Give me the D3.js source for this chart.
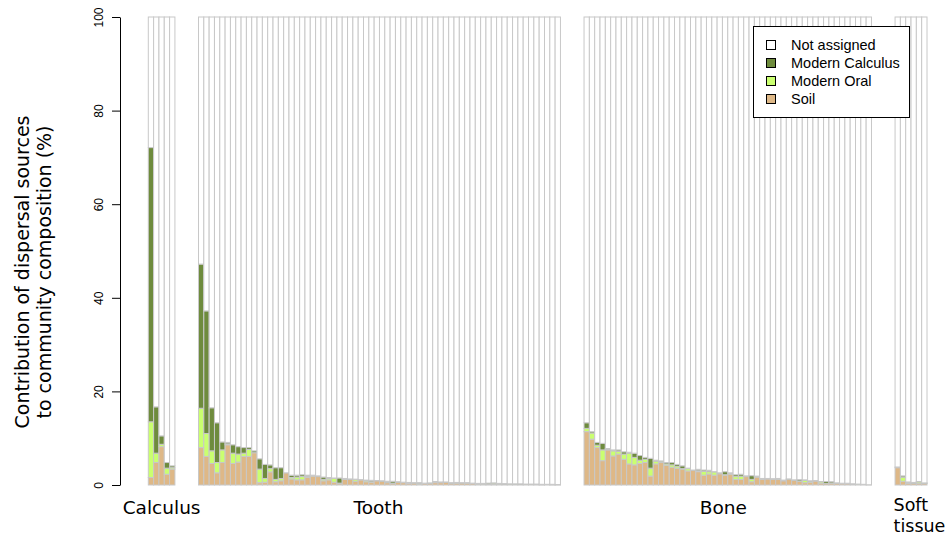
<!DOCTYPE html>
<html><head><meta charset="utf-8">
<script src="https://cdn.jsdelivr.net/npm/d3@7"></script>
<style>body{margin:0;background:#fff}svg{display:block}</style>
</head><body>
<svg id="chart" width="951" height="536"></svg>
<script>
// Sample types along the x axis
const groups = ["Calculus", "Tooth", "Bone", "Soft tissue"];
// Source categories (legend order, top to bottom)
const sources = ["Not assigned", "Modern Calculus", "Modern Oral", "Soil"];
const sourceColors = ["#ffffff", "#6e8b3d", "#caff70", "#deb887"];
const yTicks = [0, 20, 40, 60, 80, 100];

// Percent contribution of each source, one value per sample
const calculusSoil = [1.6, 4.8, 8.2, 2.3, 3.4];
const calculusOral = [11.9, 2.0, 0.5, 1.3, 0.3];
const calculusCalc = [58.6, 9.9, 1.8, 1.2, 0.4];

const toothSoil = [8.0, 6.1, 4.6, 2.6, 4.8, 8.6, 4.6, 4.9, 6.1, 6.1, 6.9, 0.5, 0.6, 2.8, 0.7, 0.9, 2.6, 1.3, 1.1, 1.1,
  1.6, 1.9, 1.8, 0.9, 1.1, 0.6, 0.3, 1.2, 1.2, 0.8, 1.1, 0.7, 0.6, 0.9, 0.8, 0.5, 0.3, 0.6, 0.5, 0.3,
  0.4, 0.2, 0.3, 0.3, 0.5, 0.5, 0.6, 0.3, 0.4, 0.4, 0.4, 0.3, 0.2, 0.2, 0.1, 0.1, 0.2, 0.2, 0.15, 0.2,
  0.1, 0.15, 0.1, 0.1, 0.05, 0.1, 0.05, 0.05];
const toothOral = [8.4, 4.9, 2.7, 2.2, 2.7, 0.2, 2.2, 1.7, 0.7, 1.5, 0.0, 2.9, 0.8, 0.7, 0.5, 0.5, 0.0, 0.3, 0.6, 0.7,
  0.2, 0.1, 0.1, 0.3, 0.3, 0.8, 0.1, 0.1, 0.0, 0.4, 0.0, 0.3, 0.1, 0.0, 0.0, 0.1, 0.1, 0.0, 0.0, 0.2,
  0.0, 0.2, 0.0, 0.1, 0.2, 0.05, 0.0, 0.1, 0.05, 0.0, 0.05, 0.0, 0.05, 0.1, 0.0, 0.3, 0.05, 0.0, 0.05, 0.0,
  0.05, 0.0, 0.05, 0.0, 0.05, 0.0, 0.05, 0.0];
const toothCalc = [30.8, 26.2, 9.2, 8.5, 1.7, 0.3, 1.8, 1.6, 1.2, 0.4, 0.4, 2.2, 3.0, 0.8, 2.5, 2.3, 0.0, 0.5, 0.4, 0.4,
  0.3, 0.1, 0.05, 0.5, 0.2, 0.1, 1.1, 0.1, 0.1, 0.05, 0.05, 0.05, 0.3, 0.05, 0.1, 0.2, 0.4, 0.1, 0.1, 0.05,
  0.1, 0.1, 0.1, 0.05, 0.05, 0.1, 0.05, 0.1, 0.1, 0.1, 0.05, 0.1, 0.1, 0.05, 0.3, 0.05, 0.1, 0.1, 0.05, 0.05,
  0.1, 0.05, 0.05, 0.1, 0.05, 0.05, 0.05, 0.05];

const boneSoil = [11.4, 9.8, 8.0, 5.2, 7.5, 6.2, 6.6, 5.5, 4.5, 4.3, 4.6, 4.8, 1.9, 4.5, 4.8, 4.2, 3.8, 3.6, 3.4, 3.0,
  3.1, 2.85, 2.1, 2.35, 2.1, 2.4, 2.1, 2.3, 1.2, 1.2, 1.8, 0.7, 1.7, 1.2, 1.3, 1.2, 1.2, 0.9, 1.2, 1.0,
  0.8, 0.5, 0.6, 0.85, 0.4, 0.3, 0.36, 0.36, 0.28, 0.28, 0.21, 0.15, 0.1, 0.05];
const boneOral = [0.7, 1.3, 0.5, 2.3, 0.1, 1.1, 0.6, 1.1, 2.3, 1.6, 0.7, 0.7, 1.7, 0.6, 0.3, 0.3, 0.5, 0.4, 0.1, 0.5,
  0.05, 0.2, 0.8, 0.5, 0.7, 0.1, 0.1, 0.1, 0.6, 0.7, 0.05, 0.5, 0.1, 0.1, 0.05, 0.1, 0.1, 0.05, 0.05, 0.05,
  0.05, 0.5, 0.2, 0.05, 0.3, 0.05, 0.05, 0.05, 0.05, 0.05, 0.0, 0.05, 0.0, 0.0];
const boneCalc = [1.2, 0.3, 0.6, 1.4, 0.2, 0.2, 0.3, 0.5, 0.2, 0.9, 1.0, 0.4, 2.1, 0.2, 0.05, 0.3, 0.5, 0.4, 0.6, 0.1,
  0.05, 0.3, 0.3, 0.3, 0.05, 0.1, 0.65, 0.2, 0.4, 0.4, 0.1, 0.8, 0.1, 0.1, 0.05, 0.05, 0.1, 0.1, 0.05, 0.05,
  0.3, 0.1, 0.1, 0.05, 0.05, 0.4, 0.3, 0.05, 0.05, 0.05, 0.05, 0.0, 0.05, 0.0];

const softSoil = [3.7, 0.8, 0.35, 0.35, 0.3, 0.3];
const softOral = [0.0, 0.85, 0.1, 0.0, 0.35, 0.1];
const softCalc = [0.15, 0.3, 0.2, 0.2, 0.1, 0.05];

const groupData = [
  [calculusSoil, calculusOral, calculusCalc],
  [toothSoil, toothOral, toothCalc],
  [boneSoil, boneOral, boneCalc],
  [softSoil, softOral, softCalc]
];

// Layout
const gapSlots = 4.43;             // blank space between sample types, in bar widths
const plotLeft = 148.3, plotRight = 927;
const axisX = 120, yTop = 17, yBottom = 485;
const labelShift = [0, -1, -4.5, 0]; // horizontal nudge of each sample type label

// Build one row per bar, with its slot position on the x axis
const rows = [];
const groupStart = [];
let slot = 0;
groupData.forEach(([soil, oral, calc], g) => {
  if (g > 0) slot += gapSlots;
  groupStart.push({ start: slot, n: soil.length });
  soil.forEach((s, j) => {
    const o = oral[j], c = calc[j];
    rows.push({
      group: groups[g], slot: slot + j,
      "Soil": s, "Modern Oral": o, "Modern Calculus": c,
      "Not assigned": Math.max(0, 100 - s - o - c)
    });
  });
  slot += soil.length;
});
const totalSlots = slot;

const x = d3.scaleLinear().domain([0, totalSlots]).range([plotLeft, plotRight]);
const bw = x(1) - x(0);
const y = d3.scaleLinear().domain([0, 100]).range([yBottom, yTop]);
const color = d3.scaleOrdinal().domain(sources).range(sourceColors);

const stackKeys = ["Soil", "Modern Oral", "Modern Calculus", "Not assigned"];
const series = d3.stack().keys(stackKeys)(rows);

const svg = d3.select("#chart");

// Stacked bars, drawn bar by bar from bottom to top
const barG = svg.append("g");
rows.forEach((r, i) => {
  series.forEach(layer => {
    const d = layer[i];
    barG.append("rect")
      .attr("x", x(r.slot))
      .attr("width", bw)
      .attr("y", y(d[1]))
      .attr("height", y(d[0]) - y(d[1]))
      .attr("fill", color(layer.key))
      .attr("stroke", "#c8c8c8")
      .attr("stroke-width", 1);
  });
});

// Y axis
const yAxis = d3.axisLeft(y).tickValues(yTicks).tickSize(8).tickSizeOuter(0);
const axG = svg.append("g").attr("transform", `translate(${axisX},0)`).call(yAxis);
axG.select(".domain").attr("stroke", "#000");
axG.selectAll(".tick line").attr("stroke", "#000");
axG.selectAll(".tick text")
  .attr("x", 0).attr("dy", null)
  .attr("font-family", "'Liberation Sans', Arial, sans-serif")
  .attr("font-size", 12).attr("fill", "#000")
  .attr("text-anchor", "middle")
  .attr("transform", "translate(-17,0) rotate(-90)");

// Y axis title
const titleFont = "'DejaVu Sans', sans-serif";
const yTitle = svg.append("text")
  .attr("transform", `translate(28.5,272) rotate(-90)`)
  .attr("text-anchor", "middle")
  .attr("font-family", titleFont).attr("font-size", 19).attr("fill", "#000");
yTitle.append("tspan").attr("x", 0).attr("y", 0).text("Contribution of dispersal sources");
yTitle.append("tspan").attr("x", 0).attr("y", 22).text("to community composition (%)");

// Sample type labels under each group
groupStart.forEach((gs, g) => {
  const name = groups[g];
  const parts = name.split(" ");
  if (parts.length > 1) {
    const t = svg.append("text")
      .attr("font-family", titleFont).attr("font-size", 17.5).attr("fill", "#000")
      .attr("text-anchor", "start");
    parts.forEach((p, k) => t.append("tspan")
      .attr("x", x(gs.start) - 1.5).attr("y", 511.4 + k * 20.4).text(p));
  } else {
    svg.append("text")
      .attr("x", x(gs.start + gs.n / 2) + labelShift[g]).attr("y", 514)
      .attr("text-anchor", "middle")
      .attr("font-family", titleFont).attr("font-size", 18.5).attr("fill", "#000")
      .text(name);
  }
});

// Legend
const lg = svg.append("g");
lg.append("rect").attr("x", 753.5).attr("y", 26.5).attr("width", 156).attr("height", 91)
  .attr("fill", "#fff").attr("stroke", "#000").attr("stroke-width", 1);
sources.forEach((s, k) => {
  const cy = 45 + k * 18;
  lg.append("rect").attr("x", 766.5).attr("y", cy - 4.5).attr("width", 9).attr("height", 9)
    .attr("fill", color(s)).attr("stroke", "#000").attr("stroke-width", 1);
  lg.append("text").attr("x", 791).attr("y", cy).attr("dy", "0.35em")
    .attr("font-family", "'Liberation Sans', Arial, sans-serif").attr("font-size", 14.5)
    .attr("fill", "#000").text(s);
});
</script>
</body></html>
